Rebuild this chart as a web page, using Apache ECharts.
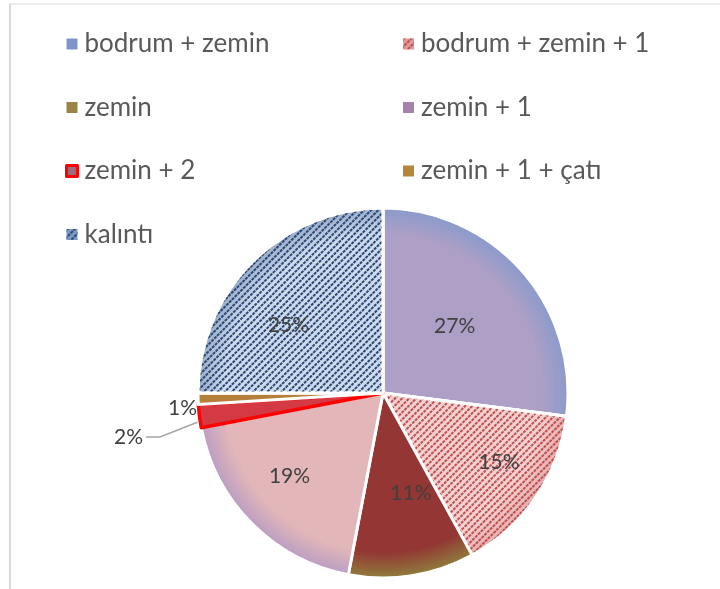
<!DOCTYPE html>
<html>
<head>
<meta charset="utf-8">
<script src="https://cdn.jsdelivr.net/npm/echarts@6/dist/echarts.min.js"></script>
<style>
  html, body { margin: 0; padding: 0; background: #fff; }
  #chart { width: 720px; height: 589px; }
</style>
</head>
<body>
<div id="chart"></div>
<script>
const categories = ['bodrum + zemin', 'bodrum + zemin + 1', 'zemin', 'zemin + 1', 'zemin + 2', 'zemin + 1 + çatı', 'kalıntı']
const values = [27, 15, 11, 19, 2, 1, 25]
const leftLegend = ['bodrum + zemin', 'zemin', 'zemin + 2', 'kalıntı']
const rightLegend = ['bodrum + zemin + 1', 'zemin + 1', 'zemin + 1 + çatı']

const cx = 383, cy = 393, rad = 185

function radial(inner, edge) {
  return {
    type: 'radial', x: cx, y: cy, r: rad, global: true,
    colorStops: [
      { offset: 0, color: inner },
      { offset: 0.86, color: inner },
      { offset: 1, color: edge },
    ],
  }
}

const stripes = (c) => ({
  symbol: 'rect',
  symbolSize: 1,
  color: c,
  dashArrayX: [[3, 1]],
  dashArrayY: [2, 3],
  rotation: -Math.PI / 4,
})

// slice look, same order as categories
const sliceStyle = [
  { color: radial('#ad9fc6', '#8a9bcc') },
  { color: radial('#f1d3d3', '#e2b0b0'), decal: stripes('#c94b4b') },
  { color: radial('#933634', '#8f7c3c') },
  { color: radial('#e3b7b9', '#bb9ec2') },
  { color: '#d33a44', borderColor: '#ff0000', borderWidth: 3.5 },
  { color: '#b5803a' },
  { color: radial('#cddbec', '#98acc8'), decal: stripes('#2a4676') },
]
// label nudges (Excel best-fit placement)
const labelShift = [[0, -4], [37, 16], [13, 6], [-26, 16], [0, 0], [31, 9], [-27, 0]]

// legend icon colors (Excel shows them differently from the slices)
const iconColor = {
  'bodrum + zemin': '#7f94c9',
  'bodrum + zemin + 1': '#dc9a9a',
  'zemin': '#9a8547',
  'zemin + 1': '#a681ab',
  'zemin + 2': '#9c6b80',
  'zemin + 1 + çatı': '#b5853a',
  'kalıntı': '#7d99c2',
}

const chart = echarts.init(document.getElementById('chart'))

const legendBase = {
  orient: 'vertical',
  top: 26,
  itemWidth: 11,
  itemHeight: 11,
  itemGap: 37.5,
  icon: 'rect',
  selectedMode: false,
  textStyle: { fontFamily: 'Lato', fontSize: 26, lineHeight: 26, color: '#595959', padding: [0, 0, 0, 2] },
}
const legendItem = (n) => ({
  name: n,
  itemStyle: n === 'zemin + 2'
    ? { color: iconColor[n], borderColor: '#ff0000', borderWidth: 3 }
    : { color: iconColor[n], borderWidth: 0 },
})

const option = {
  animation: false,
  backgroundColor: '#fff',
  legend: [
    Object.assign({}, legendBase, { left: 60, data: leftLegend.map(legendItem) }),
    Object.assign({}, legendBase, { left: 398, data: rightLegend.map(legendItem) }),
  ],
  graphic: [
    { type: 'line', shape: { x1: 9, y1: 4, x2: 720, y2: 4 }, style: { stroke: '#d9d9d9', lineWidth: 1 } },
    { type: 'line', shape: { x1: 10, y1: 4, x2: 10, y2: 589 }, style: { stroke: '#d9d9d9', lineWidth: 2 } },
  ],
  series: [
    {
      type: 'pie',
      center: [cx, cy],
      radius: rad,
      startAngle: 90,
      clockwise: true,
      avoidLabelOverlap: false,
      itemStyle: { borderColor: '#fff', borderWidth: 3 },
      label: {
        position: 'inside',
        formatter: (p) => Math.round(p.percent) + '%',
        fontFamily: 'Lato',
        fontSize: 21,
        color: '#404040',
      },
      labelLine: { show: false },
      labelLayout: (p) => {
        if (p.dataIndex === 4 && p.labelLinePoints) {
          // 2% callout sits left of the pie with a bent leader
          const a = p.labelLinePoints[0]
          return {
            hideOverlap: false,
            x: 143, y: 437, align: 'right', verticalAlign: 'middle',
            labelLinePoints: [[a[0] - 2, a[1] + 6], [160, 437], [146, 437]],
          }
        }
        return { hideOverlap: false, dx: labelShift[p.dataIndex][0], dy: labelShift[p.dataIndex][1] }
      },
      emphasis: { disabled: true },
      data: categories.map((n, i) => {
        const d = { name: n, value: values[i], itemStyle: sliceStyle[i] }
        if (values[i] < 5) {
          d.label = { show: true, position: 'outside', distanceToLabelLine: 2 }
          d.labelLine = { show: n === 'zemin + 2', length: 12, length2: 18, lineStyle: { color: '#a6a6a6', width: 1.5 } }
        }
        return d
      }),
    },
  ],
}
chart.setOption(option)
</script>
</body>
</html>
